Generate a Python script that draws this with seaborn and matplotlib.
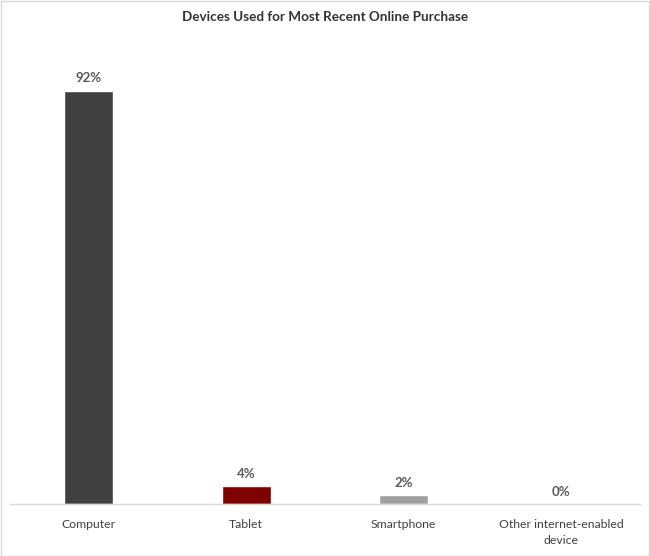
import pandas as pd
import numpy as np
import matplotlib.pyplot as plt
import seaborn as sns

devices = ['Computer', 'Tablet', 'Smartphone', 'Other internet-enabled\ndevice']
shares = [92, 4, 2, 0]
bar_colors = ['#404040', '#800000', '#a0a0a0', '#d0d0d0']

df = pd.DataFrame({'device': devices, 'share': shares})

sns.set_style('white')
plt.rcParams['font.family'] = ['Lato', 'DejaVu Sans']

fig = plt.figure(figsize=(6.5, 5.56), dpi=100)
ax = fig.add_axes([10 / 650, 52 / 556, 630 / 650, 464 / 556])

sns.barplot(data=df, x='device', y='share', hue='device', palette=bar_colors,
            width=0.31, legend=False, ax=ax, saturation=1)

ax.set_ylim(0, 103.3)
ax.set_xlim(-0.5, 3.5)
for i, v in enumerate(shares):
    ax.text(i, v + 1.4, f'{v}%', ha='center', va='bottom', fontsize=9.5,
            fontweight='bold', color='#595959')

ax.set_xlabel('')
ax.set_ylabel('')
ax.set_yticks([])
ax.tick_params(axis='x', length=0, labelsize=8.8, labelcolor='#404040', pad=11)
for lbl in ax.get_xticklabels():
    lbl.set_linespacing(1.55)
for s in ['left', 'right', 'top']:
    ax.spines[s].set_visible(False)
ax.spines['bottom'].set_color('#d9d9d9')
ax.spines['bottom'].set_linewidth(1)

fig.text(0.5, 1 - 17 / 556, 'Devices Used for Most Recent Online Purchase',
         ha='center', va='center', fontsize=9.7, fontweight='bold', color='#333333')

border = plt.Rectangle((0.5 / 650, 0.5 / 556), 648.5 / 650, 554.5 / 556,
                       transform=fig.transFigure, fill=False,
                       edgecolor='#d9d9d9', linewidth=1)
fig.patches.append(border)

fig.savefig('out.png', dpi=100)
